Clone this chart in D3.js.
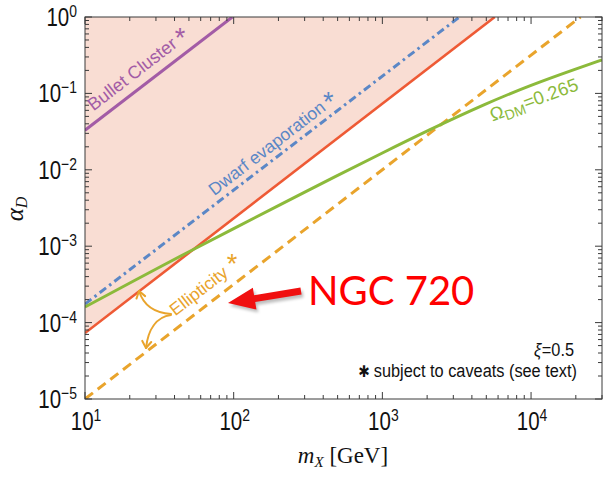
<!DOCTYPE html>
<html><head><meta charset="utf-8">
<script src="https://cdn.jsdelivr.net/npm/d3@7"></script>
<style>body{margin:0;background:#fff} svg{display:block}</style>
</head><body>
<svg id="chart" width="609" height="479"></svg>
<script>
// ---- data (mass in GeV, dark coupling alpha_D) ----
const xMajor = [10, 100, 1000, 10000];
const xExp = ["1", "2", "3", "4"];
const yMajor = [1e-5, 1e-4, 1e-3, 1e-2, 1e-1, 1];
const yExp = ["\u22125", "\u22124", "\u22123", "\u22122", "\u22121", "0"];

const bulletMass = [10, 98];
const bulletAlpha = [0.033, 1.0];
const dwarfMass = [10, 3300];
const dwarfAlpha = [1.75e-4, 1.0];
const ellipUpperMass = [10, 5700];
const ellipUpperAlpha = [7.3e-5, 1.0];
const ellipLowerMass = [10, 21500];
const ellipLowerAlpha = [1e-5, 1.0];
const relicMass = [10, 20, 50, 100, 200, 500, 1000, 2000, 5000, 10000, 20000, 30000];
const relicAlpha = [1.6e-4, 3.3e-4, 8.5e-4, 1.7e-3, 3.4e-3, 8.5e-3, 0.0166, 0.0324, 0.074, 0.129, 0.209, 0.275];

// ---- layout ----
const svg = d3.select("#chart");
const L = 85, R = 602, T = 17, B = 399;
const x = d3.scaleLog().domain([10, 3e4]).range([L, R]);
const y = d3.scaleLog().domain([1e-5, 1]).range([B, T]);
const NARROW = 0.82;

const C = {
  shade: "#f9ddd3", bullet: "#a35ca6", dwarf: "#5b87c6", red: "#ee5a35",
  relic: "#8cba3b", ellip: "#e9a42c", frame: "#3a3a3a"
};

const defs = svg.append("defs");
defs.append("clipPath").attr("id", "plotclip")
  .append("rect").attr("x", L).attr("y", T).attr("width", R - L).attr("height", B - T);
const plot = svg.append("g").attr("clip-path", "url(#plotclip)");

const toPts = (ms, as) => ms.map((m, i) => [m, as[i]]);
const line = d3.line().x(d => x(d[0])).y(d => y(d[1]));

// excluded region above the ellipticity bound
const shadePts = toPts(ellipUpperMass, ellipUpperAlpha).concat([[ellipUpperMass[0], 1]]);
plot.append("path").attr("d", line(shadePts) + "Z").attr("fill", C.shade);

plot.append("path").attr("d", line(toPts(bulletMass, bulletAlpha)))
  .attr("fill", "none").attr("stroke", C.bullet).attr("stroke-width", 3);
plot.append("path").attr("d", line(toPts(dwarfMass, dwarfAlpha)))
  .attr("fill", "none").attr("stroke", C.dwarf).attr("stroke-width", 3)
  .attr("stroke-dasharray", "8,4,2.5,4");
plot.append("path").attr("d", line(toPts(ellipUpperMass, ellipUpperAlpha)))
  .attr("fill", "none").attr("stroke", C.red).attr("stroke-width", 2.6);
plot.append("path").attr("d", line(toPts(ellipLowerMass, ellipLowerAlpha)))
  .attr("fill", "none").attr("stroke", C.ellip).attr("stroke-width", 3)
  .attr("stroke-dasharray", "10,6");
plot.append("path")
  .attr("d", d3.line().x(d => x(d[0])).y(d => y(d[1])).curve(d3.curveBasis)(toPts(relicMass, relicAlpha)))
  .attr("fill", "none").attr("stroke", C.relic).attr("stroke-width", 3);

// ---- frame and ticks (inward, all four sides) ----
const xMinor = [], yMinor = [];
for (let e = 1; e <= 4; e++) for (let k = 2; k <= 9; k++) { const v = k * 10 ** e; if (v <= 3e4) xMinor.push(v); }
for (let e = -5; e < 0; e++) for (let k = 2; k <= 9; k++) yMinor.push(k * 10 ** e);

const ax = svg.append("g").attr("stroke", C.frame).attr("stroke-width", 1).attr("fill", "none");
ax.append("rect").attr("x", L).attr("y", T).attr("width", R - L).attr("height", B - T);
function xt(v, len) {
  ax.append("line").attr("x1", x(v)).attr("x2", x(v)).attr("y1", B).attr("y2", B - len);
  ax.append("line").attr("x1", x(v)).attr("x2", x(v)).attr("y1", T).attr("y2", T + len);
}
function yt(v, len) {
  ax.append("line").attr("y1", y(v)).attr("y2", y(v)).attr("x1", L).attr("x2", L + len);
  ax.append("line").attr("y1", y(v)).attr("y2", y(v)).attr("x1", R).attr("x2", R - len);
}
xMajor.forEach(v => xt(v, 7)); xMinor.forEach(v => xt(v, 4));
yMajor.forEach(v => yt(v, 7)); yMinor.forEach(v => yt(v, 4));

// ---- tick labels ----
const sans = "'Liberation Sans', Arial, Helvetica, sans-serif";
function powLabel(px, py, exp, anchor) {
  const g = svg.append("g").attr("transform", `translate(${px},${py}) scale(${NARROW},1)`);
  const t = g.append("text").attr("font-family", sans).attr("font-size", 25).attr("fill", "#111")
    .attr("text-anchor", anchor);
  t.append("tspan").text("10");
  t.append("tspan").attr("font-size", 17).attr("dy", -9).text(exp);
}
xMajor.forEach((v, i) => powLabel(x(v) + 1, 430, xExp[i], "middle"));
yMajor.forEach((v, i) => powLabel(77, y(v) + 9, yExp[i], "end"));

// ---- axis titles ----
const serif = "'Liberation Serif', 'Times New Roman', serif";
const xl = svg.append("text").attr("x", 343).attr("y", 463).attr("text-anchor", "middle")
  .attr("font-family", serif).attr("font-size", 23).attr("fill", "#111");
xl.append("tspan").attr("font-style", "italic").text("m");
xl.append("tspan").attr("font-style", "italic").attr("font-size", 15).attr("dy", 4).text("X");
xl.append("tspan").attr("dy", -4).text(" [GeV]");

const yl = svg.append("text").attr("transform", "translate(23,209) rotate(-90)").attr("text-anchor", "middle")
  .attr("font-family", serif).attr("font-size", 25).attr("fill", "#111");
yl.append("tspan").attr("font-style", "italic").text("\u03b1");
yl.append("tspan").attr("font-style", "italic").attr("font-size", 16).attr("dy", 4).text("D");

// ---- curve labels ----
const slopeAng = Math.atan2(y(ellipLowerAlpha[1]) - y(ellipLowerAlpha[0]),
                            x(ellipLowerMass[1]) - x(ellipLowerMass[0])) * 180 / Math.PI;
function rotLabel(m, a, txt, color, size, ang) {
  return svg.append("text")
    .attr("transform", `translate(${x(m)},${y(a)}) rotate(${ang})`)
    .attr("font-family", sans).attr("font-size", size).attr("fill", color).text(txt);
}
function star(m, a, color) {
  svg.append("text").attr("x", x(m)).attr("y", y(a) + 15).attr("text-anchor", "middle")
    .attr("font-family", sans).attr("font-size", 27).attr("fill", color).text("*");
}
rotLabel(11.4, 0.058, "Bullet Cluster", C.bullet, 18, slopeAng);
star(43.6, 0.64, C.bullet);
rotLabel(74, 4.5e-3, "Dwarf evaporation", C.dwarf, 17.5, slopeAng);
star(432, 0.092, C.dwarf);
rotLabel(40.5, 1.2e-4, "Ellipticity", C.ellip, 17.5, slopeAng);
star(97.5, 7.0e-4, C.ellip);

const om = svg.append("text").attr("transform", `translate(${x(5500)},${y(0.043)}) rotate(-20)`)
  .attr("font-family", sans).attr("font-size", 18.5).attr("fill", C.relic);
om.append("tspan").text("\u03a9");
om.append("tspan").attr("font-size", 14).attr("dy", 4).text("DM");
om.append("tspan").attr("dy", -4).text("=0.265");

// ---- ellipticity pointer arrows ----
function curvedArrow(d, tip, from) {
  const g = svg.append("g").attr("stroke", C.ellip).attr("stroke-width", 2).attr("fill", "none")
    .attr("stroke-linecap", "round").attr("stroke-linejoin", "round");
  g.append("path").attr("d", d);
  const a = Math.atan2(tip[1] - from[1], tip[0] - from[0]);
  const h = 8, w = 0.6;
  g.append("path").attr("d",
    `M${tip[0] - h * Math.cos(a - w)},${tip[1] - h * Math.sin(a - w)} L${tip[0]},${tip[1]} ` +
    `L${tip[0] - h * Math.cos(a + w)},${tip[1] - h * Math.sin(a + w)}`);
}
curvedArrow("M171,314 C156,313 144,307 139,291", [139, 291], [143, 305]);
curvedArrow("M171,315 C156,317 148,330 146,348", [146, 348], [148, 331]);

// ---- bottom-right notes (narrow sans, right-aligned) ----
const NOTE_SX = 0.86;
function noteText(px, py, txt, opts = {}) {
  const g = svg.append("g").attr("transform", `translate(${px},${py}) scale(${NOTE_SX},1)`);
  const t = g.append("text").attr("text-anchor", "end").attr("font-family", opts.family || sans)
    .attr("font-size", opts.size || 19).attr("fill", "#111")
    .attr("font-style", opts.italic ? "italic" : null).text(txt);
  return t.node().getComputedTextLength() * NOTE_SX;
}
const eqW = noteText(574, 355.5, "=0.5");
noteText(574 - eqW - 0.5, 355.5, "\u03be", { italic: true });
const cavW = noteText(577, 377, "subject to caveats (see text)");
noteText(577 - cavW - 4, 377, "\u2731", { family: "'DejaVu Sans', sans-serif", size: 16 });

// ---- NGC 720 marker ----
defs.append("filter").attr("id", "shadow").attr("x", "-20%").attr("y", "-50%").attr("width", "140%").attr("height", "200%")
  .append("feGaussianBlur").attr("stdDeviation", 1.6);
function arrowPoly(tail, tip, sw, hl, hw) {
  const dx = tip[0] - tail[0], dy = tip[1] - tail[1], len = Math.hypot(dx, dy);
  const ux = dx / len, uy = dy / len, nx = -uy, ny = ux;
  const bx = tip[0] - ux * hl, by = tip[1] - uy * hl;
  return [
    [tail[0] + nx * sw, tail[1] + ny * sw], [bx + nx * sw, by + ny * sw], [bx + nx * hw, by + ny * hw],
    tip, [bx - nx * hw, by - ny * hw], [bx - nx * sw, by - ny * sw], [tail[0] - nx * sw, tail[1] - ny * sw]
  ].map(p => p.join(",")).join(" ");
}
const tail = [301, 291], tip = [228, 303];
svg.append("polygon").attr("points", arrowPoly([tail[0] + 2, tail[1] + 3], [tip[0] + 2, tip[1] + 3], 3.5, 27, 11))
  .attr("fill", "#000").attr("opacity", 0.25).attr("filter", "url(#shadow)");
svg.append("polygon").attr("points", arrowPoly(tail, tip, 3.5, 27, 11)).attr("fill", "#f01010");
svg.append("text").attr("x", 308).attr("y", 305).attr("font-family", "Lato, 'Open Sans', sans-serif")
  .attr("font-size", 40).attr("fill", "#ff0000").text("NGC 720");
</script>
</body></html>
